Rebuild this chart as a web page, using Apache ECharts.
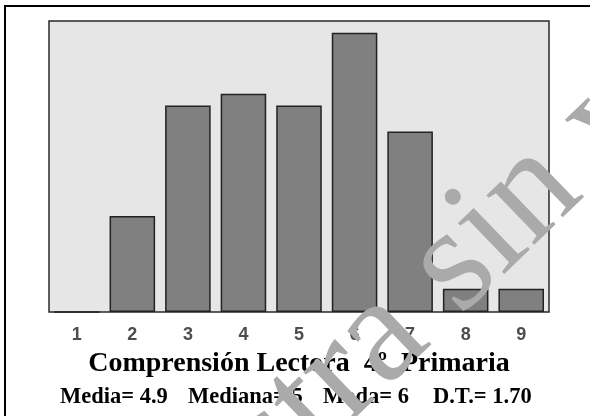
<!DOCTYPE html>
<html>
<head>
<meta charset="utf-8">
<script src="https://cdn.jsdelivr.net/npm/echarts@6/dist/echarts.min.js"></script>
<style>
html,body{margin:0;padding:0;background:#fff;}
#chart{width:590px;height:416px;}
</style>
</head>
<body>
<div id="chart"></div>
<script>
// Data
var categories = ['1','2','3','4','5','6','7','8','9'];
var frequencies = [0, 33, 71, 75, 71, 96, 62, 8, 8];
var chartTitle = 'Comprensión Lectora  4º  Primaria';
var statLabels = ['Media= 4.9', 'Mediana= 5', 'Moda= 6', 'D.T.= 1.70'];
var watermarkText = 'Muestra sin valor';

var chart = echarts.init(document.getElementById('chart'), null, {renderer: 'canvas'});

var statX = [60, 188, 323, 433];
var graphics = [
  {type: 'rect', shape: {x: 5, y: 6, width: 700, height: 500}, style: {fill: 'none', stroke: '#000', lineWidth: 2}, z: 10},
  {type: 'text', x: 299, y: 364, style: {text: chartTitle, font: 'bold 28px "Liberation Serif"', fill: '#000', textAlign: 'center', textVerticalAlign: 'middle'}, z: 10}
];
statLabels.forEach(function (s, i) {
  graphics.push({type: 'text', x: statX[i], y: 397, style: {text: s, font: 'bold 22.5px "Liberation Serif"', fill: '#000', textAlign: 'left', textVerticalAlign: 'middle'}, z: 10});
});
graphics.push({type: 'text', x: 52, y: 656, rotation: 0.768, style: {text: watermarkText, font: '150px "Liberation Serif"', fill: '#aaaaaa', textAlign: 'left', textVerticalAlign: 'middle'}, z: 100});

chart.setOption({
  animation: false,
  grid: {left: 49, right: 41, top: 21, bottom: 104, show: true, backgroundColor: '#e6e6e6', borderColor: '#2a2a2a', borderWidth: 1.5},
  xAxis: {
    type: 'category', data: categories,
    axisLine: {show: false}, axisTick: {show: false}, splitLine: {show: false},
    axisLabel: {margin: 14, fontFamily: '"Liberation Sans"', fontWeight: 'bold', fontSize: 18, color: '#4d4d4d'}
  },
  yAxis: {type: 'value', min: 0, max: 100, show: false},
  series: [{
    type: 'bar', data: frequencies, barCategoryGap: '18%',
    itemStyle: {color: '#808080', borderColor: '#222', borderWidth: 1.5}
  }],
  graphic: graphics
});
</script>
</body>
</html>
